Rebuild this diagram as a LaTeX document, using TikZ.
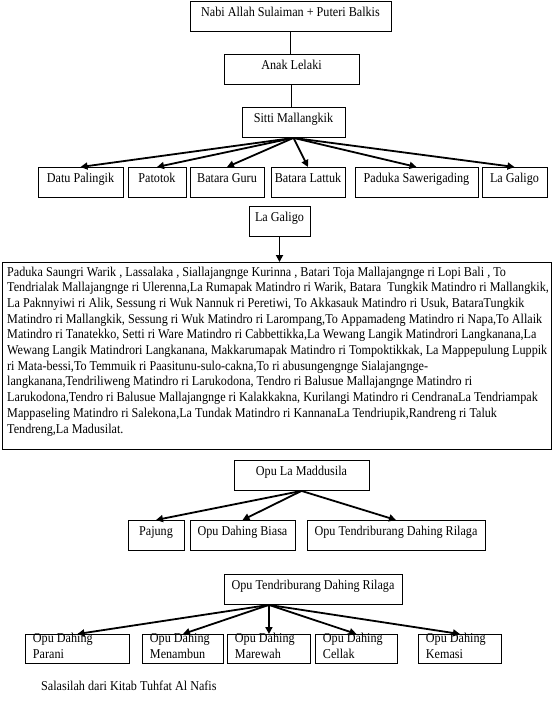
\documentclass[tikz,border=0pt]{standalone}
\usepackage{fontspec}
\setmainfont{Liberation Serif}[FakeStretch=0.9]
\usetikzlibrary{arrows.meta}
\begin{document}
\begin{tikzpicture}[x=1pt,y=-1pt,font=\fontsize{13.5pt}{15.7pt}\selectfont]

    \tikzset{
      kotak/.style={
        draw,
        line width=0.9pt,
        anchor=north,
        inner xsep=2pt,
        inner ysep=0pt,
        text height=15pt,
        text depth=15pt,
      },
      kotakdua/.style={
        draw,
        line width=0.9pt,
        anchor=north west,
        align=flush left,
        inner xsep=7.5pt,
        inner ysep=0pt,
        text height=8pt,
        text depth=21pt,
      },
      garis/.style={line width=0.9pt},
      panah/.style={line width=1.8pt,-{Triangle[length=7pt,width=7pt]}},
    }
    \useasboundingbox (0,0) rectangle (556,701);

	\node[kotak,minimum width=201pt] (nabi) at (290.5,1) {Nabi Allah Sulaiman + Puteri Balkis};
	\node[kotak,minimum width=135pt] (anak) at (291.5,54) {Anak Lelaki};
	\node[kotak,minimum width=103pt] (sitti) at (293.5,107) {Sitti Mallangkik};
	\draw[garis] (nabi.south) -- (nabi.south |- anak.north);
	\draw[garis] (anak.south) -- (anak.south |- sitti.north);

	\node[kotak,minimum width=85pt] (datu) at (80.5,167) {Datu Palingik};
	\node[kotak,minimum width=58pt] (patotok) at (157,167) {Patotok};
	\node[kotak,minimum width=74pt] (guru) at (227,167) {Batara Guru};
	\node[kotak,minimum width=74pt] (lattuk) at (308,167) {Batara Lattuk};
	\node[kotak,minimum width=123pt] (paduka) at (416.5,167) {Paduka Sawerigading};
	\node[kotak,minimum width=65pt] (galigo) at (514.5,167) {La Galigo};
	\foreach \anak in {datu,patotok,guru,lattuk,paduka,galigo}
	  \draw[panah] (sitti.south) -- (\anak.north);

	\node[kotak,minimum width=61pt] (galigodua) at (279.5,206) {La Galigo};
	\node[draw,line width=0.9pt,anchor=north west,minimum width=549pt,minimum height=187pt,inner sep=0pt] (daftar) at (2,262) {};
	\node[anchor=base west,align=flush left,inner sep=0pt] (daftarteks) at (7,433) {Paduka Saungri Warik , Lassalaka , Siallajangnge Kurinna , Batari Toja Mallajangnge ri Lopi Bali , To\\
Tendrialak Mallajangnge ri Ulerenna,La Rumapak Matindro ri Warik, Batara~ Tungkik Matindro ri Mallangkik,\\
La Paknnyiwi ri Alik, Sessung ri Wuk Nannuk ri Peretiwi, To Akkasauk Matindro ri Usuk, BataraTungkik\\
Matindro ri Mallangkik, Sessung ri Wuk Matindro ri Larompang,To Appamadeng Matindro ri Napa,To Allaik\\
Matindro ri Tanatekko, Setti ri Ware Matindro ri Cabbettikka,La Wewang Langik Matindrori Langkanana,La\\
Wewang Langik Matindrori Langkanana, Makkarumapak Matindro ri Tompoktikkak, La Mappepulung Luppik\\
ri Mata-bessi,To Temmuik ri Paasitunu-sulo-cakna,To ri abusungengnge Sialajangnge-\\
langkanana,Tendriliweng Matindro ri Larukodona, Tendro ri Balusue Mallajangnge Matindro ri\\
Larukodona,Tendro ri Balusue Mallajangnge ri Kalakkakna, Kurilangi Matindro ri CendranaLa Tendriampak\\
Mappaseling Matindro ri Salekona,La Tundak Matindro ri KannanaLa Tendriupik,Randreng ri Taluk\\
Tendreng,La Madusilat.};
	\draw[panah] (galigodua.south) -- (galigodua.south |- daftar.north);

	\node[kotak,minimum width=135pt] (maddusila) at (301.5,460) {Opu La Maddusila};
	\node[kotak,minimum width=56pt] (pajung) at (156,520) {Pajung};
	\node[kotak,minimum width=105pt] (biasa) at (242.5,520) {Opu Dahing Biasa};
	\node[kotak,minimum width=178pt] (tendri) at (396,520) {Opu Tendriburang Dahing Rilaga};
	\foreach \anak in {pajung,biasa,tendri}
	  \draw[panah] (maddusila.south) -- (\anak.north);

	\node[kotak,minimum width=178pt] (tendridua) at (313,574) {Opu Tendriburang Dahing Rilaga};
	\node[kotakdua,text width=89pt] (parani) at (25,634) {Opu Dahing\\Parani};
	\node[kotakdua,text width=66pt] (menambun) at (142,634) {Opu Dahing\\Menambun};
	\node[kotakdua,text width=68pt] (marewah) at (227,634) {Opu Dahing\\Marewah};
	\node[kotakdua,text width=67pt] (cellak) at (315,634) {Opu Dahing\\Cellak};
	\node[kotakdua,text width=68pt] (kemasi) at (418,634) {Opu Dahing\\Kemasi};
	\coordinate (pecah) at (marewah.north |- tendridua.south);
	\foreach \anak in {parani,menambun,marewah,cellak,kemasi}
	  \draw[panah] (pecah) -- (\anak.north);

	\node[anchor=base west,inner sep=0pt] (sumber) at (41,690) {Salasilah dari Kitab Tuhfat Al Nafis};

\end{tikzpicture}
\end{document}
